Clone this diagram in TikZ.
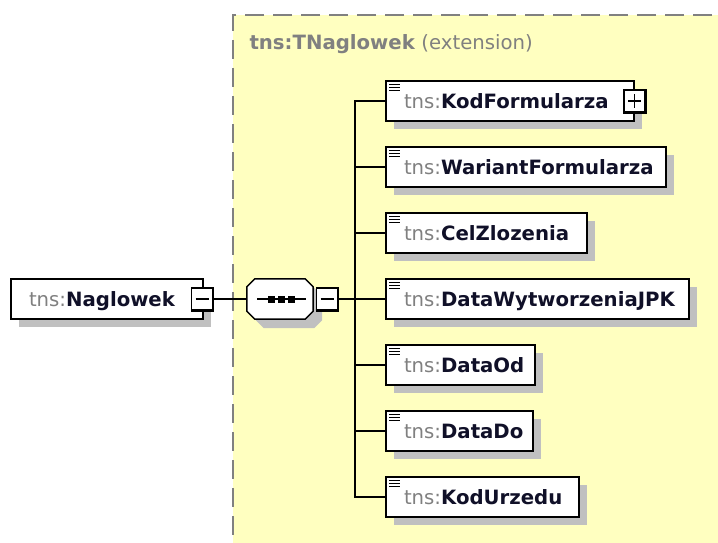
\documentclass[tikz,border=0pt]{standalone}
\usepackage{fontspec}
\setmainfont{DejaVu Sans}
\usetikzlibrary{shadows}
\definecolor{bgyellow}{RGB}{255,255,192}
\definecolor{tnsgray}{RGB}{128,128,128}
\definecolor{namedark}{RGB}{16,16,40}
\definecolor{shadowgray}{RGB}{192,192,192}
\definecolor{bordergray}{RGB}{128,128,128}
\newcommand\tnsname[1]{{\color{tnsgray}tns:}{\bfseries\color{namedark}#1}}
\newcommand\octagonpath[1]{([xshift=8pt]#1.north west) -- ([xshift=-8pt]#1.north east) -- ([yshift=-8pt]#1.north east) -- ([yshift=8pt]#1.south east) -- ([xshift=-8pt]#1.south east) -- ([xshift=8pt]#1.south west) -- ([yshift=8pt]#1.south west) -- ([yshift=-8pt]#1.north west) -- cycle}
\tikzset{
  every node/.style={font=\fontsize{19.7}{24}\selectfont},
  topbox/.style={draw=black, line width=2pt, fill=white, anchor=west,
    minimum height=40pt, inner xsep=18pt, inner ysep=3pt,
    text height=14.4pt, text depth=0pt, align=left,
    drop shadow={shadow xshift=8pt, shadow yshift=-8pt, fill=shadowgray, opacity=1}},
  elembox/.style={topbox,
    path picture={\draw[black, line width=1.4pt]
      ([xshift=3pt,yshift=-3.5pt]path picture bounding box.north west) -- ++(11pt,0pt)
      ([xshift=3pt,yshift=-6.5pt]path picture bounding box.north west) -- ++(11pt,0pt)
      ([xshift=3pt,yshift=-9.5pt]path picture bounding box.north west) -- ++(11pt,0pt);}},
  btn/.style={draw=black, line width=1.3pt, fill=white, minimum width=21pt,
    minimum height=22pt, inner sep=0pt},
  minusbtn/.style={btn, path picture={\draw[black, line width=1.3pt]
      ([xshift=-6.5pt]path picture bounding box.center) -- ([xshift=6.5pt]path picture bounding box.center);}},
  plusbtn/.style={btn, path picture={\draw[black, line width=1.3pt]
      ([xshift=-6.5pt]path picture bounding box.center) -- ([xshift=6.5pt]path picture bounding box.center)
      ([yshift=-6.5pt]path picture bounding box.center) -- ([yshift=6.5pt]path picture bounding box.center);}},
  seqbox/.style={rectangle, minimum width=66pt, minimum height=40pt, inner sep=0pt},
  seqline/.style={draw=black, line width=1.5pt, fill=white},
  seqshadow/.style={fill=shadowgray, transform canvas={shift={(9pt,-9pt)}}},
  dotsq/.style={fill=black, minimum size=7pt, inner sep=0pt},
  conn/.style={draw=black, line width=1.8pt},
  edge3d/.style={line width=2.6pt},
  regionborder/.style={draw=bordergray, line width=2pt, dash pattern=on 19pt off 9pt}
}
\begin{document}
\begin{tikzpicture}[x=1pt, y=-1pt]
\clip (0,0) rectangle (718,543);
\fill[white] (0,0) rectangle (718,543);
% extension region
\fill[bgyellow] (233,15) rectangle (740,560);
\draw[regionborder] (740,15) -- (233,15) -- (233,560);
\node[anchor=base west, text=tnsgray] (hdr) at (246,50) {\textbf{tns:TNaglowek} (extension)};
% left element
\node[topbox, text width=156pt] (nag) at (10,299) {\tnsname{Naglowek}};
\node[minusbtn] (nagbtn) at (202,299) {};
\draw[edge3d] (nagbtn.south west) -- (nagbtn.south east) -- (nagbtn.north east);
% sequence compositor
\node[seqbox] (seq) at (280,299) {};
\fill[seqshadow] \octagonpath{seq};
\draw[seqline] \octagonpath{seq};
\draw[black, line width=1.5pt] ([xshift=-23pt]seq.center) -- ([xshift=26pt]seq.center);
\node[dotsq] (sq1) at (271,299) {};
\node[dotsq] (sq2) at (281,299) {};
\node[dotsq] (sq3) at (291,299) {};
\node[minusbtn] (seqbtn) at (327,299) {};
\draw[edge3d] (seqbtn.south west) -- (seqbtn.south east) -- (seqbtn.north east);
% child elements
\node[elembox, text width=212pt] (e1) at (385,101) {\tnsname{KodFormularza}};
\node[plusbtn] (kodbtn) at (634.5,101) {};
\draw[edge3d] (kodbtn.south west) -- (kodbtn.south east) -- (kodbtn.north east);
\node[elembox, text width=244pt] (e2) at (385,167) {\tnsname{WariantFormularza}};
\node[elembox, text width=165pt] (e3) at (385,233) {\tnsname{CelZlozenia}};
\node[elembox, text width=267pt] (e4) at (385,299) {\tnsname{DataWytworzeniaJPK}};
\node[elembox, text width=113pt] (e5) at (385,365) {\tnsname{DataOd}};
\node[elembox, text width=111pt] (e6) at (385,431) {\tnsname{DataDo}};
\node[elembox, text width=157pt] (e7) at (385,497) {\tnsname{KodUrzedu}};
% connectors
\coordinate (j) at (355,299);
\draw[conn] (nagbtn.east) -- (seq.west);
\draw[conn] (seqbtn.east) -- (j);
\foreach \e in {e1,e2,e3,e4,e5,e6,e7} {\draw[conn] (j) |- (\e.west);}
\end{tikzpicture}
\end{document}
